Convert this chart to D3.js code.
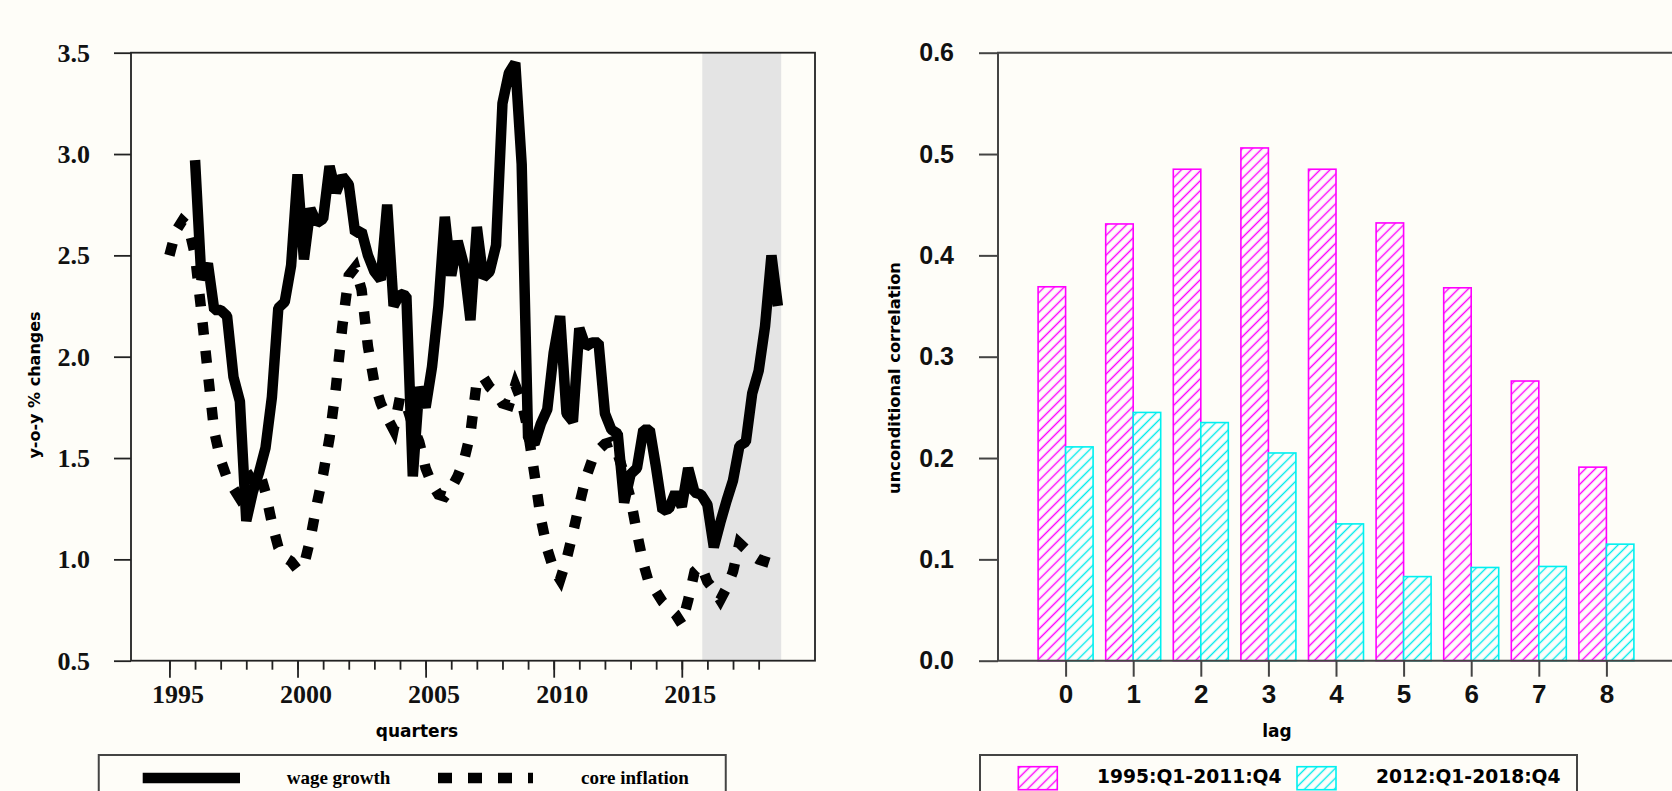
<!DOCTYPE html>
<html lang="en">
<head>
<meta charset="UTF-8">
<title>Wage growth, core inflation and their correlation</title>
<script src="https://d3js.org/d3.v7.min.js"></script>
<style>
  html, body { margin: 0; padding: 0; background: #fefdf8; }
  svg { display: block; }
  .serif { font-family: "Liberation Serif", "Times New Roman", serif; font-weight: bold; }
  .arial { font-family: "Liberation Sans", Arial, sans-serif; font-weight: bold; }
  .verd { font-family: "DejaVu Sans", Verdana, sans-serif; font-weight: bold; }
</style>
</head>
<body>
<svg id="chart" width="1672" height="791"></svg>
<script>
// y-o-y wage growth, quarterly from 1996Q1
const wageGrowth = [
  2.97, 2.38, 2.46, 2.23, 2.23, 2.20, 1.90, 1.78,
  1.19, 1.33, 1.43, 1.55, 1.80, 2.24, 2.27, 2.45,
  2.90, 2.48, 2.73, 2.66, 2.68, 2.94, 2.81, 2.89,
  2.85, 2.61, 2.62, 2.50, 2.42, 2.38, 2.75, 2.25,
  2.31, 2.30, 1.41, 1.85, 1.75, 1.95, 2.25, 2.69,
  2.40, 2.57, 2.45, 2.18, 2.64, 2.39, 2.42, 2.55,
  3.25, 3.40, 3.45, 2.95, 1.60, 1.57, 1.67, 1.74,
  2.02, 2.20, 1.72, 1.68, 2.14, 2.05, 2.07, 2.07,
  1.72, 1.64, 1.62, 1.28, 1.42, 1.45, 1.64, 1.64,
  1.45, 1.24, 1.25, 1.33, 1.26, 1.45, 1.33, 1.32,
  1.27, 1.06, 1.18, 1.29, 1.39, 1.56, 1.58, 1.82,
  1.93, 2.15, 2.50, 2.25
];
// y-o-y core inflation, quarterly from 1995Q1
const coreInflation = [
  2.50, 2.62, 2.67, 2.64, 2.50, 2.22, 1.92, 1.63,
  1.49, 1.40, 1.35, 1.30, 1.33, 1.42, 1.44, 1.33,
  1.18, 1.06, 1.01, 0.99, 0.95, 0.97, 1.10, 1.27,
  1.42, 1.60, 1.85, 2.15, 2.40, 2.44, 2.33, 2.05,
  1.87, 1.77, 1.70, 1.64, 1.80, 1.76, 1.66, 1.58,
  1.45, 1.37, 1.32, 1.31, 1.35, 1.41, 1.49, 1.62,
  1.88, 1.90, 1.85, 1.82, 1.77, 1.76, 1.86, 1.78,
  1.63, 1.42, 1.20, 1.05, 0.95, 0.90, 1.00, 1.13,
  1.27, 1.40, 1.49, 1.54, 1.57, 1.58, 1.52, 1.42,
  1.30, 1.13, 0.98, 0.87, 0.84, 0.79, 0.76, 0.73,
  0.68, 0.80, 0.94, 0.97, 0.89, 0.85, 0.80, 0.86,
  0.94, 1.08, 1.05, 1.02, 1.00, 0.99, 0.98, 0.97
];
const wageStart = 1996;
const coreStart = 1995;
const yearLabels = [1995, 2000, 2005, 2010, 2015];
const yearTicks = d3.range(1995, 2019);
const leftYTicks = [0.5, 1.0, 1.5, 2.0, 2.5, 3.0, 3.5];
const shadedSpan = [2015.8, 2018.88];
const seriesNames = ["wage growth", "core inflation"];

const lags = [0, 1, 2, 3, 4, 5, 6, 7, 8];
const corrEarly = [0.369, 0.431, 0.485, 0.506, 0.485, 0.432, 0.368, 0.276, 0.191];
const corrLate = [0.211, 0.245, 0.235, 0.205, 0.135, 0.083, 0.092, 0.093, 0.115];
const rightYTicks = [0, 0.1, 0.2, 0.3, 0.4, 0.5, 0.6];
const periodNames = ["1995:Q1-2011:Q4", "2012:Q1-2018:Q4"];

const svg = d3.select("#chart");
const plotTop = 52.7, plotBottom = 660.7;

// ---------- left panel ----------
const x = d3.scaleLinear().domain([1993.5, 2020.2]).range([131, 815]);
const y = d3.scaleLinear().domain([0.5, 3.5]).range([plotBottom, plotTop]);

svg.append("rect")
  .attr("x", x(shadedSpan[0])).attr("y", plotTop)
  .attr("width", x(shadedSpan[1]) - x(shadedSpan[0]))
  .attr("height", plotBottom - plotTop)
  .attr("fill", "#e4e4e4");

const wageLine = d3.line().x((d, i) => x(wageStart + i / 4)).y(d => y(d));
const coreLine = d3.line().x((d, i) => x(coreStart + i / 4)).y(d => y(d));

svg.append("path").datum(wageGrowth)
  .attr("d", wageLine).attr("fill", "none")
  .attr("stroke", "#000").attr("stroke-width", 10.5)
  .attr("stroke-linejoin", "bevel");

svg.append("path").datum(coreInflation)
  .attr("d", coreLine).attr("fill", "none")
  .attr("stroke", "#000").attr("stroke-width", 10.5)
  .attr("stroke-dasharray", "12.5,16");

svg.append("rect")
  .attr("x", 131).attr("y", plotTop)
  .attr("width", 815 - 131).attr("height", plotBottom - plotTop)
  .attr("fill", "none").attr("stroke", "#222").attr("stroke-width", 1.8);

const yAxisL = svg.append("g")
  .attr("transform", "translate(131,0)")
  .call(d3.axisLeft(y).tickValues(leftYTicks).tickSize(17).tickSizeOuter(0)
    .tickPadding(24).tickFormat(d3.format(".1f")));
yAxisL.select(".domain").remove();
yAxisL.selectAll("line").attr("stroke", "#222").attr("stroke-width", 1.8);
yAxisL.selectAll("text").attr("class", "serif").attr("font-size", 26).attr("fill", "#111");

const xMinor = svg.append("g")
  .attr("transform", `translate(0,${plotBottom})`)
  .call(d3.axisBottom(x).tickValues(yearTicks).tickSize(9).tickSizeOuter(0).tickFormat(""));
xMinor.select(".domain").remove();
xMinor.selectAll("line").attr("stroke", "#222").attr("stroke-width", 1.8);

const xMajor = svg.append("g")
  .attr("transform", `translate(0,${plotBottom})`)
  .call(d3.axisBottom(x).tickValues(yearLabels).tickSize(17).tickSizeOuter(0).tickFormat(d3.format("d")));
xMajor.select(".domain").remove();
xMajor.selectAll("line").attr("stroke", "#222").attr("stroke-width", 1.8);
xMajor.selectAll("text").attr("class", "serif").attr("font-size", 26).attr("fill", "#111")
  .attr("y", 42.6).attr("dy", null).attr("dx", 8);

svg.append("text").attr("class", "verd").attr("font-size", 17)
  .attr("x", 417).attr("y", 737).attr("text-anchor", "middle").text("quarters");

svg.append("text").attr("class", "verd").attr("font-size", 16)
  .attr("transform", "translate(39.5,385) rotate(-90)")
  .attr("text-anchor", "middle").text("y-o-y % changes");

// left legend
svg.append("rect").attr("x", 98.75).attr("y", 755).attr("width", 627).attr("height", 60)
  .attr("fill", "none").attr("stroke", "#444").attr("stroke-width", 2);
svg.append("line").attr("x1", 142.7).attr("x2", 240).attr("y1", 778).attr("y2", 778)
  .attr("stroke", "#000").attr("stroke-width", 10.5);
svg.append("line").attr("x1", 438).attr("x2", 533).attr("y1", 778).attr("y2", 778)
  .attr("stroke", "#000").attr("stroke-width", 10.5).attr("stroke-dasharray", "14,16");
svg.append("text").attr("class", "serif").attr("font-size", 19)
  .attr("x", 286.7).attr("y", 783.5).text(seriesNames[0]);
svg.append("text").attr("class", "serif").attr("font-size", 19)
  .attr("x", 581).attr("y", 783.5).text(seriesNames[1]);

// ---------- right panel ----------
const defs = svg.append("defs");
function hatch(id, color) {
  const p = defs.append("pattern").attr("id", id)
    .attr("patternUnits", "userSpaceOnUse").attr("width", 7).attr("height", 7)
    .attr("patternTransform", "rotate(45)");
  p.append("rect").attr("width", 7).attr("height", 7).attr("fill", "#fefdfb");
  p.append("line").attr("x1", 3.5).attr("x2", 3.5).attr("y1", 0).attr("y2", 7)
    .attr("stroke", color).attr("stroke-width", 1.4);
}
hatch("hatchM", "#ff00ff");
hatch("hatchC", "#00ecec");

const xR = d3.scaleLinear().domain([-1, 9]).range([998, 1674]);
const yR = d3.scaleLinear().domain([0, 0.6]).range([plotBottom, plotTop]);
const barW = 27.5;

svg.append("g").selectAll("rect").data(lags).join("rect")
  .attr("x", d => xR(d) - barW).attr("y", (d, i) => yR(corrEarly[i]))
  .attr("width", barW).attr("height", (d, i) => yR(0) - yR(corrEarly[i]))
  .attr("fill", "url(#hatchM)").attr("stroke", "#ff00ff").attr("stroke-width", 1.6);

svg.append("g").selectAll("rect").data(lags).join("rect")
  .attr("x", d => xR(d)).attr("y", (d, i) => yR(corrLate[i]))
  .attr("width", barW).attr("height", (d, i) => yR(0) - yR(corrLate[i]))
  .attr("fill", "url(#hatchC)").attr("stroke", "#00f0f0").attr("stroke-width", 1.6);

svg.append("path")
  .attr("d", `M1700,${plotTop}H998V${plotBottom}H1700`)
  .attr("fill", "none").attr("stroke", "#444").attr("stroke-width", 2);

const yAxisR = svg.append("g")
  .attr("transform", "translate(998,0)")
  .call(d3.axisLeft(yR).tickValues(rightYTicks).tickSize(19).tickSizeOuter(0)
    .tickPadding(25).tickFormat(d3.format(".1f")));
yAxisR.select(".domain").remove();
yAxisR.selectAll("line").attr("stroke", "#444").attr("stroke-width", 2);
yAxisR.selectAll("text").attr("class", "arial").attr("font-size", 25).attr("fill", "#111");

const xAxisR = svg.append("g")
  .attr("transform", `translate(0,${plotBottom})`)
  .call(d3.axisBottom(xR).tickValues(lags).tickSize(16).tickSizeOuter(0).tickFormat(d3.format("d")));
xAxisR.select(".domain").remove();
xAxisR.selectAll("line").attr("stroke", "#444").attr("stroke-width", 2);
xAxisR.selectAll("text").attr("class", "arial").attr("font-size", 26).attr("fill", "#111")
  .attr("y", 42).attr("dy", null);

svg.append("text").attr("class", "verd").attr("font-size", 17)
  .attr("x", 1277).attr("y", 737).attr("text-anchor", "middle").text("lag");

svg.append("text").attr("class", "verd").attr("font-size", 16.3)
  .attr("transform", "translate(899.5,378) rotate(-90)")
  .attr("text-anchor", "middle").text("unconditional correlation");

// right legend
svg.append("rect").attr("x", 980).attr("y", 755).attr("width", 597).attr("height", 60)
  .attr("fill", "none").attr("stroke", "#444").attr("stroke-width", 2);
svg.append("rect").attr("x", 1018.3).attr("y", 766.7).attr("width", 39).attr("height", 23)
  .attr("fill", "url(#hatchM)").attr("stroke", "#ff00ff").attr("stroke-width", 1.6);
svg.append("rect").attr("x", 1297).attr("y", 766.7).attr("width", 39).attr("height", 23)
  .attr("fill", "url(#hatchC)").attr("stroke", "#00f0f0").attr("stroke-width", 1.6);
svg.append("text").attr("class", "verd").attr("font-size", 18.7)
  .attr("x", 1097).attr("y", 782.5).text(periodNames[0]);
svg.append("text").attr("class", "verd").attr("font-size", 18.7)
  .attr("x", 1376).attr("y", 782.5).text(periodNames[1]);
</script>
</body>
</html>
